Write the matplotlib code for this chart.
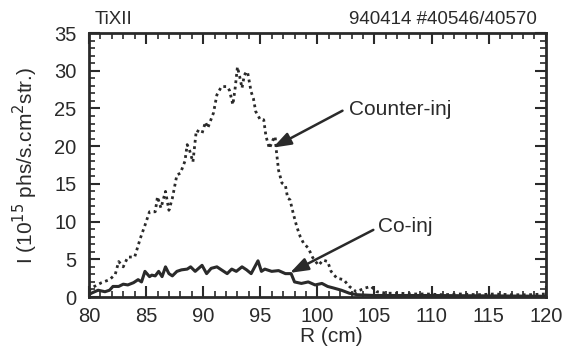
import matplotlib
matplotlib.use("Agg")
import matplotlib.pyplot as plt
from matplotlib.ticker import MultipleLocator

plt.rcParams["font.family"] = ["Liberation Sans", "DejaVu Sans"]

# Counter-injection profile (dotted)
r_counter = [80.0, 80.2, 80.6, 81.1, 81.8, 82.3, 82.6, 83.0, 83.4, 84.0,
             84.5, 84.9, 85.3, 85.8, 86.0, 86.3, 86.7, 87.0, 87.3, 87.7,
             88.0, 88.4, 88.6, 88.8, 89.1, 89.4, 89.9, 90.2, 90.4, 90.9,
             91.2, 91.6, 92.1, 92.3, 92.6, 92.8, 93.0, 93.2, 93.4, 93.6,
             93.8, 93.9, 94.2, 94.4, 94.6, 95.0, 95.3, 95.5, 95.8, 96.1,
             96.3, 96.4, 96.6, 96.9, 97.2, 97.4, 97.6, 97.9, 98.2, 98.5,
             98.8, 99.2, 99.6, 100.1, 100.5, 100.9, 101.2, 101.7, 102.3, 102.8,
             103.4, 104.2, 104.7, 105.2, 106.1, 107.2, 108.4, 109.6, 111.0, 112.5,
             114.0, 115.5, 117.0, 118.5, 120.0]
i_counter = [0.8, 1.2, 1.5, 1.9, 2.3, 3.0, 4.7, 4.0, 5.3, 5.3,
             7.8, 9.5, 11.3, 11.3, 13.3, 11.8, 14.0, 11.5, 13.1, 16.2,
             16.4, 18.0, 20.2, 19.5, 17.9, 22.1, 21.7, 23.2, 22.4, 24.4,
             26.8, 27.9, 27.9, 27.4, 25.5, 27.7, 30.5, 29.2, 27.7, 29.4,
             29.9, 29.7, 27.2, 26.3, 24.6, 23.5, 23.5, 21.3, 19.7, 20.8,
             21.3, 19.5, 16.8, 15.1, 14.8, 13.1, 12.9, 11.0, 9.3, 8.0,
             7.1, 6.5, 5.2, 4.2, 4.9, 4.7, 3.4, 2.5, 2.3, 1.4,
             0.7, 1.2, 1.4, 0.7, 0.5, 0.5, 0.4, 0.4, 0.3, 0.4,
             0.3, 0.4, 0.3, 0.3, 0.4]

# Co-injection profile (solid)
r_co = [80.0, 80.2, 80.8, 81.4, 81.8, 82.1, 82.6, 83.0, 83.4, 83.9,
        84.3, 84.6, 84.9, 85.3, 85.5, 85.8, 86.1, 86.4, 86.7, 87.0,
        87.3, 87.7, 88.1, 88.6, 88.9, 89.3, 89.9, 90.3, 90.7, 91.2,
        91.6, 92.1, 92.5, 92.9, 93.4, 93.8, 94.2, 94.8, 95.1, 95.4,
        96.0, 96.6, 97.2, 97.7, 98.0, 98.6, 99.2, 99.8, 100.4, 100.9,
        101.4, 102.1, 102.8, 103.5, 105.0, 110.0, 120.0]
i_co = [0.3, 0.5, 0.9, 0.7, 0.9, 1.4, 1.4, 1.7, 1.6, 1.9,
        2.3, 2.0, 3.4, 2.7, 2.9, 2.8, 3.4, 2.7, 4.0, 3.1,
        2.8, 3.4, 3.6, 3.7, 4.0, 3.4, 4.2, 3.1, 3.8, 4.0,
        3.6, 3.1, 3.7, 3.4, 4.0, 3.6, 3.1, 4.8, 3.4, 3.7,
        3.4, 3.5, 3.1, 3.1, 2.0, 1.8, 2.0, 1.6, 1.8, 1.4,
        1.2, 0.9, 0.5, 0.3, 0.2, 0.2, 0.1]

ink = "#2a2a2a"

fig = plt.figure(figsize=(5.76, 3.46), dpi=100)
ax = fig.add_axes([0.1545, 0.1416, 0.793, 0.763])

ax.plot(r_counter, i_counter, linestyle=(0, (1, 1.3)), color=ink, lw=2.0)
ax.plot(r_co, i_co, linestyle="-", color=ink, lw=2.2)

ax.set_xlim(80, 120)
ax.set_ylim(0, 35)
ax.xaxis.set_major_locator(MultipleLocator(5))
ax.xaxis.set_minor_locator(MultipleLocator(1))
ax.yaxis.set_major_locator(MultipleLocator(5))
ax.yaxis.set_minor_locator(MultipleLocator(1))
ax.tick_params(which="both", direction="in", top=True, right=True, color=ink)
ax.tick_params(which="major", length=8, width=1.5, labelsize=14.5, labelcolor=ink)
ax.tick_params(which="minor", length=4, width=1.2)
ax.tick_params(axis="y", pad=9)
ax.tick_params(axis="x", pad=7)
for s in ax.spines.values():
    s.set_linewidth(2)
    s.set_color(ink)

ax.set_xlabel("R (cm)", fontsize=15, color=ink, labelpad=0)
ax.xaxis.set_label_coords(0.53, -0.115)
ax.set_ylabel("I (10$^{15}$ phs/s.cm$^{2}$str.)", fontsize=15, color=ink)
ax.yaxis.set_label_coords(-0.108, 0.5)

ax.text(0.013, 1.02, "TiXII", transform=ax.transAxes, fontsize=13.5,
        color=ink, ha="left", va="bottom")
ax.text(0.98, 1.02, "940414 #40546/40570", transform=ax.transAxes, fontsize=13.5,
        color=ink, ha="right", va="bottom")

arrow = dict(arrowstyle="-|>,head_length=1.0,head_width=0.35", color=ink, lw=1.8,
             mutation_scale=11, shrinkA=0, shrinkB=0)
ax.annotate("", xy=(96.1, 19.8), xytext=(102.2, 24.7), arrowprops=arrow)
ax.text(102.8, 24.9, "Counter-inj", fontsize=15, color=ink, ha="left", va="center")
ax.annotate("", xy=(97.6, 3.2), xytext=(104.9, 8.9), arrowprops=arrow)
ax.text(105.3, 9.3, "Co-inj", fontsize=15, color=ink, ha="left", va="center")

fig.savefig("out.png", dpi=100)
